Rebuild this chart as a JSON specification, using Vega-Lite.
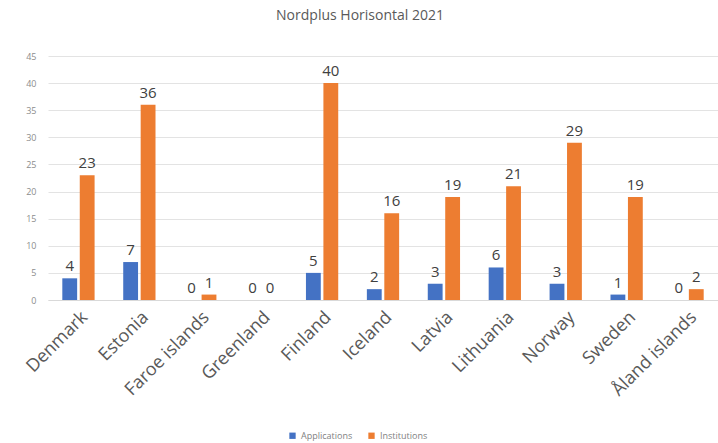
{
  "$schema": "https://vega.github.io/schema/vega-lite/v6.json",
  "width": 670,
  "height": 244,
  "autosize": "none",
  "padding": {"left": 48, "top": 56, "right": 0, "bottom": 143},
  "background": "white",
  "title": {
    "text": "Nordplus Horisontal 2021",
    "fontSize": 14,
    "font": "Open Sans",
    "fontWeight": "normal",
    "color": "#595959",
    "anchor": "middle",
    "dx": -23,
    "offset": 29
  },
  "config": {
    "view": {"stroke": null},
    "font": "Open Sans"
  },
  "data": {
    "values": [
      {"country": "Denmark", "series": "Applications", "value": 4},
      {"country": "Denmark", "series": "Institutions", "value": 23},
      {"country": "Estonia", "series": "Applications", "value": 7},
      {"country": "Estonia", "series": "Institutions", "value": 36},
      {"country": "Faroe islands", "series": "Applications", "value": 0},
      {"country": "Faroe islands", "series": "Institutions", "value": 1},
      {"country": "Greenland", "series": "Applications", "value": 0},
      {"country": "Greenland", "series": "Institutions", "value": 0},
      {"country": "Finland", "series": "Applications", "value": 5},
      {"country": "Finland", "series": "Institutions", "value": 40},
      {"country": "Iceland", "series": "Applications", "value": 2},
      {"country": "Iceland", "series": "Institutions", "value": 16},
      {"country": "Latvia", "series": "Applications", "value": 3},
      {"country": "Latvia", "series": "Institutions", "value": 19},
      {"country": "Lithuania", "series": "Applications", "value": 6},
      {"country": "Lithuania", "series": "Institutions", "value": 21},
      {"country": "Norway", "series": "Applications", "value": 3},
      {"country": "Norway", "series": "Institutions", "value": 29},
      {"country": "Sweden", "series": "Applications", "value": 1},
      {"country": "Sweden", "series": "Institutions", "value": 19},
      {"country": "Åland islands", "series": "Applications", "value": 0},
      {"country": "Åland islands", "series": "Institutions", "value": 2}
    ]
  },
  "encoding": {
    "x": {
      "field": "country",
      "type": "nominal",
      "sort": null,
      "scale": {"paddingInner": 0.47, "paddingOuter": 0.235},
      "axis": {
        "title": null,
        "labelAngle": -45,
        "labelFontSize": 18,
        "labelColor": "#595959",
        "ticks": false,
        "domainColor": "#d9d9d9",
        "labelPadding": 8
      }
    },
    "xOffset": {
      "field": "series",
      "type": "nominal",
      "scale": {"paddingInner": 0.15}
    },
    "y": {
      "field": "value",
      "type": "quantitative",
      "scale": {"domain": [0, 45], "nice": false},
      "axis": {
        "title": null,
        "values": [0, 5, 10, 15, 20, 25, 30, 35, 40, 45],
        "labelFontSize": 9,
        "labelColor": "#8c8c8c",
        "ticks": false,
        "domain": false,
        "gridColor": "#e3e3e3",
        "labelPadding": 12
      }
    }
  },
  "layer": [
    {
      "mark": {"type": "bar"},
      "encoding": {
        "color": {
          "field": "series",
          "type": "nominal",
          "scale": {"domain": ["Applications", "Institutions"], "range": ["#4472C4", "#ED7D31"]},
          "legend": {
            "title": null,
            "orient": "none",
            "direction": "horizontal",
            "legendX": 240,
            "legendY": 375,
            "symbolType": "square",
            "symbolSize": 40,
            "labelFontSize": 9,
            "labelColor": "#7f7f7f",
            "columnPadding": 14,
            "symbolStrokeWidth": 0
          }
        }
      }
    },
    {
      "mark": {"type": "text", "dy": -12, "fontSize": 15, "color": "#404040"},
      "encoding": {
        "text": {"field": "value", "type": "quantitative"}
      }
    }
  ]
}
